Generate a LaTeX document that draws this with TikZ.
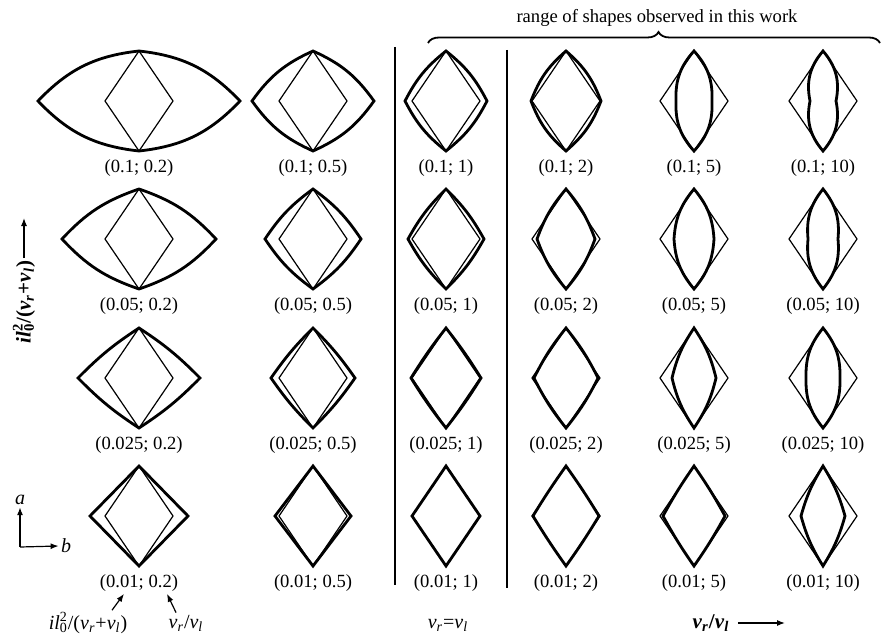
\documentclass[tikz,border=0pt]{standalone}
\usepackage{fontspec}
\setmainfont{Liberation Serif}
\usepackage{tikz}
\usetikzlibrary{arrows.meta, positioning, decorations.pathreplacing}

\newcommand{\ilsq}{\textit{il}\rlap{\textsubscript{0}}\textsuperscript{2}}
\newcommand{\vsub}[1]{\textit{v}\textsubscript{\textit{#1}}}

% one cell: centre x, centre y, half width of the thick outline, bend, label name, label
\newcommand{\cell}[6]{%
  \draw[thindiam] (#1,#2-50) -- (#1+34,#2) -- (#1,#2+50) -- (#1-34,#2) -- cycle;
  \draw[thickout] (#1,#2-50) to[bend left=#4] (#1+#3,#2) to[bend left=#4] (#1,#2+50)
    to[bend left=#4] (#1-#3,#2) to[bend left=#4] cycle;
  \node[cellabel] (#5) at (#1,#2+67) {#6};
}

\begin{document}
\begin{tikzpicture}[
    x=0.5pt, y=-0.5pt,
    thindiam/.style = {line width=0.6pt, line join=miter},
    thickout/.style = {line width=1.4pt, line join=miter},
    sepline/.style = {line width=0.6pt},
    cellabel/.style = {font=\fontsize{9.3}{11}\selectfont, inner sep=1pt},
    annlabel/.style = {font=\fontsize{10}{12}\selectfont, inner sep=1pt},
    boldlabel/.style = {font=\fontsize{10.5}{12}\selectfont\bfseries, inner sep=1pt},
    axarrow/.style = {-{Latex[length=4pt,width=3pt]}, line width=0.6pt}
]
\useasboundingbox (0,0) rectangle (881,636);

% row 0.1
\cell{139}{101}{101}{20}{l11}{(0.1; 0.2)}
\cell{313}{101}{61}{15}{l12}{(0.1; 0.5)}
\cell{446}{101}{41}{12}{l13}{(0.1; 1)}
\cell{566}{101}{35}{14}{l14}{(0.1; 2)}
\cell{694}{101}{18}{22}{l15}{(0.1; 5)}
\cell{823}{101}{13}{26}{l16}{(0.1; 10)}

% row 0.05
\cell{139}{239}{77}{14}{l21}{(0.05; 0.2)}
\cell{313}{239}{48}{10}{l22}{(0.05; 0.5)}
\cell{446}{239}{38}{8}{l23}{(0.05; 1)}
\cell{566}{239}{29}{10}{l24}{(0.05; 2)}
\cell{694}{239}{20}{18}{l25}{(0.05; 5)}
\cell{823}{239}{15}{22}{l26}{(0.05; 10)}

% row 0.025
\cell{139}{378}{61}{6}{l31}{(0.025; 0.2)}
\cell{313}{378}{42}{5}{l32}{(0.025; 0.5)}
\cell{446}{378}{35}{3}{l33}{(0.025; 1)}
\cell{566}{378}{32}{6}{l34}{(0.025; 2)}
\cell{694}{378}{22}{10}{l35}{(0.025; 5)}
\cell{823}{378}{17}{20}{l36}{(0.025; 10)}

% row 0.01
\cell{139}{516}{49}{0}{l41}{(0.01; 0.2)}
\cell{313}{516}{38}{0}{l42}{(0.01; 0.5)}
\cell{446}{516}{34}{0}{l43}{(0.01; 1)}
\cell{566}{516}{33}{2}{l44}{(0.01; 2)}
\cell{694}{516}{31}{3}{l45}{(0.01; 5)}
\cell{823}{516}{22}{8}{l46}{(0.01; 10)}

% separators and brace
\draw[sepline] (395,47) -- (395,585);
\draw[sepline] (507,50) -- (507,588);
\draw[line width=0.9pt, decorate, decoration={brace, amplitude=5.5pt, aspect=0.51}]
    (428,43) -- (880,43);
\node[cellabel] (title) at (657,18) {range of shapes observed in this work};

% axis labels
\node[boldlabel, rotate=90] (ylab) at (24,302) {\ilsq/(\vsub{r}+\vsub{l})};
\coordinate (ytip) at (24,218);
\draw[axarrow] (ylab.east) -- (ytip);

\node[boldlabel] (xlab) at (711,623) {\vsub{r}/\vsub{l}};
\coordinate (xtip) at (785,623);
\draw[axarrow] ([xshift=3pt]xlab.east) -- (xtip);

\node[annlabel] (eqlab) at (448,625) {\vsub{r}=\vsub{l}};

% small a-b axes
\coordinate (orig) at (20,547);
\node[annlabel] (aa) at (20,500) {\textit{a}};
\node[annlabel] (bb) at (66,546) {\textit{b}};
\draw[axarrow] (orig) -- (aa.south);
\draw[axarrow] (orig) -- (bb.west);

% what the two numbers mean
\node[annlabel] (ann1) at (88,623) {\ilsq/(\vsub{r}+\vsub{l})};
\node[annlabel] (ann2) at (186,623) {\vsub{r}/\vsub{l}};
\draw[axarrow] ([xshift=12pt]ann1.north) -- ([xshift=-7.5pt]l41.south);
\draw[axarrow] ([xshift=-5pt]ann2.north) -- ([xshift=14pt]l41.south);

\end{tikzpicture}
\end{document}
